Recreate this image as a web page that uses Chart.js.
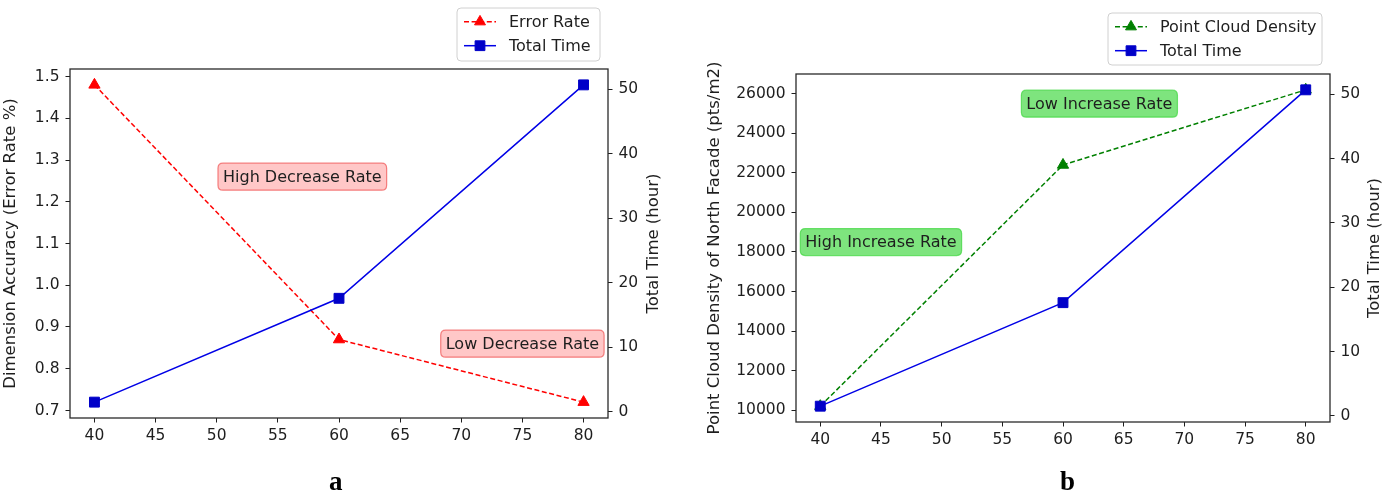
<!DOCTYPE html>
<html><head><meta charset="utf-8">
<script src="https://cdn.jsdelivr.net/npm/chart.js@4.4.1/dist/chart.umd.min.js"></script>
<style>
html,body{margin:0;padding:0;background:#fff;}
body{width:1395px;height:498px;position:relative;overflow:hidden;}
.wrap{position:absolute;top:0;height:498px;}
#wa{left:0;width:690px;}
#wb{left:695px;width:700px;}
.sub{position:absolute;top:464px;font-family:'Liberation Serif','DejaVu Serif',serif;font-weight:bold;font-size:27px;color:#000;line-height:34px;}
</style></head>
<body>
<div id="wa" class="wrap"><canvas id="ca" width="690" height="498"></canvas></div>
<div id="wb" class="wrap"><canvas id="cb" width="700" height="498"></canvas></div>
<div class="sub" style="left:329px;">a</div>
<div class="sub" style="left:1060px;">b</div>
<script>
// ---------- data ----------
const xValues = [40, 60, 80];
const errorRate = [1.48, 0.87, 0.72];
const totalTime = [1.5, 17.6, 50.7];
const cloudDensity = [10200, 22400, 26200];

const xTicks = [40, 45, 50, 55, 60, 65, 70, 75, 80];
const errorTicks = [0.7, 0.8, 0.9, 1.0, 1.1, 1.2, 1.3, 1.4, 1.5];
const timeTicks = [0, 10, 20, 30, 40, 50];
const densityTicks = [10000, 12000, 14000, 16000, 18000, 20000, 22000, 24000, 26000];

const notesTextA = ['High Decrease Rate', 'Low Decrease Rate'];
const notesXA = [57, 75];
const notesYA = [1.26, 0.86];
const notesTextB = ['Low Increase Rate', 'High Increase Rate'];
const notesXB = [63, 45];
const notesYB = [25500, 18500];

const seriesNamesA = ['Error Rate', 'Total Time'];
const seriesNamesB = ['Point Cloud Density', 'Total Time'];
const axisTitlesA = ['Dimension Accuracy (Error Rate %)', 'Total Time (hour)'];
const axisTitlesB = ['Point Cloud Density of North Facade (pts/m2)', 'Total Time (hour)'];

// ---------- style ----------
const FONT = "'DejaVu Sans', 'Noto Sans', sans-serif";
const INK = '#1e1e1e';
const RED = '#ff0000';
const BLUE_LINE = '#0000e6';
const BLUE_MARK = '#0000c8';
const GREEN = '#008000';
const DASH = [5, 2.6];

function padRange(arr) {
  const mn = Math.min(...arr), mx = Math.max(...arr), r = mx - mn;
  return [mn - 0.05 * r, mx + 0.05 * r];
}
function pts(ys) { return xValues.map((x, i) => ({x: x, y: ys[i]})); }

function rrect(ctx, x, y, w, h, r) {
  ctx.beginPath();
  ctx.moveTo(x + r, y);
  ctx.lineTo(x + w - r, y);
  ctx.quadraticCurveTo(x + w, y, x + w, y + r);
  ctx.lineTo(x + w, y + h - r);
  ctx.quadraticCurveTo(x + w, y + h, x + w - r, y + h);
  ctx.lineTo(x + r, y + h);
  ctx.quadraticCurveTo(x, y + h, x, y + h - r);
  ctx.lineTo(x, y + r);
  ctx.quadraticCurveTo(x, y, x + r, y);
  ctx.closePath();
}
function marker(ctx, style, x, y, color) {
  ctx.save();
  ctx.fillStyle = color; ctx.strokeStyle = color; ctx.lineWidth = 1; ctx.setLineDash([]);
  ctx.beginPath();
  if (style === 'triangle') {
    const r = 6.3;
    ctx.moveTo(x, y - r);
    ctx.lineTo(x + r * 0.866, y + r * 0.5);
    ctx.lineTo(x - r * 0.866, y + r * 0.5);
    ctx.closePath();
  } else {
    const s = 4.9;
    ctx.rect(x - s, y - s, 2 * s, 2 * s);
  }
  ctx.fill(); ctx.stroke();
  ctx.restore();
}
function vtext(ctx, text, x, y) {
  ctx.save();
  ctx.translate(x, y);
  ctx.rotate(-Math.PI / 2);
  ctx.font = '16.5px ' + FONT;
  ctx.fillStyle = INK;
  ctx.textAlign = 'center';
  ctx.textBaseline = 'middle';
  ctx.fillText(text, 0, 0);
  ctx.restore();
}

function decor(cfg) {
  return {
    id: 'decor',
    afterDatasetsDraw(chart) {
      const ctx = chart.ctx, a = chart.chartArea;
      // spines
      ctx.save();
      ctx.strokeStyle = '#2a2a2a'; ctx.lineWidth = 1.3;
      ctx.strokeRect(a.left, a.top, a.right - a.left, a.bottom - a.top);
      ctx.restore();
      // text boxes
      const xs = chart.scales.x, ys = chart.scales.y;
      cfg.notes.text.forEach((t, i) => {
        const px = xs.getPixelForValue(cfg.notes.x[i]);
        const py = ys.getPixelForValue(cfg.notes.y[i]);
        ctx.save();
        ctx.font = '16px ' + FONT;
        const w = ctx.measureText(t).width;
        const pad = 5, h = 27;
        rrect(ctx, px - w / 2 - pad, py - h / 2, w + 2 * pad, h, 5);
        ctx.fillStyle = cfg.notes.fill; ctx.fill();
        ctx.strokeStyle = cfg.notes.edge; ctx.lineWidth = 1.2; ctx.stroke();
        ctx.fillStyle = INK; ctx.textAlign = 'center'; ctx.textBaseline = 'middle';
        ctx.fillText(t, px, py + 1);
        ctx.restore();
      });
      // legend
      const L = cfg.legend;
      ctx.save();
      rrect(ctx, L.x, L.y, L.w, L.h, 4);
      ctx.fillStyle = 'rgba(255,255,255,0.9)'; ctx.fill();
      ctx.strokeStyle = '#d0d0d0'; ctx.lineWidth = 1; ctx.stroke();
      L.items.forEach((it, i) => {
        const yy = L.y + 13.7 + i * 24;
        ctx.save();
        ctx.strokeStyle = it.color; ctx.lineWidth = 1.5;
        ctx.setLineDash(it.dash ? DASH : []);
        ctx.beginPath(); ctx.moveTo(L.x + 7, yy); ctx.lineTo(L.x + 39, yy); ctx.stroke();
        ctx.restore();
        marker(ctx, it.style, L.x + 23, yy, it.mark);
        ctx.font = '16px ' + FONT; ctx.fillStyle = INK;
        ctx.textAlign = 'left'; ctx.textBaseline = 'middle';
        ctx.fillText(it.label, L.x + 52, yy + 1);
      });
      ctx.restore();
      // axis titles
      const cy = (a.top + a.bottom) / 2;
      vtext(ctx, cfg.titles[0], cfg.titleX[0], cy);
      vtext(ctx, cfg.titles[1], cfg.titleX[1], cy);
    }
  };
}

function xScale(h) {
  const r = padRange(xValues);
  return {
    type: 'linear', position: 'bottom', min: r[0], max: r[1],
    afterBuildTicks: s => { s.ticks = xTicks.map(v => ({value: v})); },
    afterFit: s => { s.height = h; },
    grid: {drawOnChartArea: false, drawTicks: true, tickLength: 4.5, color: INK, lineWidth: 1},
    border: {display: false},
    ticks: {font: {family: FONT, size: 15.5}, color: INK, padding: 4, maxRotation: 0, autoSkip: false}
  };
}
function yScale(pos, w, data, tickVals, fmt) {
  const r = padRange(data);
  return {
    type: 'linear', position: pos, min: r[0], max: r[1],
    afterBuildTicks: s => { s.ticks = tickVals.map(v => ({value: v})); },
    afterFit: s => { s.width = w; },
    grid: {drawOnChartArea: false, drawTicks: true, tickLength: 4.5, color: INK, lineWidth: 1},
    border: {display: false},
    ticks: {font: {family: FONT, size: 15.5}, color: INK, padding: 6, autoSkip: false, callback: fmt}
  };
}

Chart.defaults.animation = false;

new Chart(document.getElementById('ca'), {
  type: 'line',
  data: {
    datasets: [
      {label: seriesNamesA[0], data: pts(errorRate), yAxisID: 'y', borderColor: RED, backgroundColor: RED,
       borderWidth: 1.5, borderDash: DASH, pointStyle: 'triangle', pointRadius: 6.5, pointBorderWidth: 1,
       pointBackgroundColor: RED, pointBorderColor: RED, tension: 0, order: 2},
      {label: seriesNamesA[1], data: pts(totalTime), yAxisID: 'y1', borderColor: BLUE_LINE, backgroundColor: BLUE_MARK,
       borderWidth: 1.5, pointStyle: 'rect', pointRadius: 7, pointBorderWidth: 1,
       pointBackgroundColor: BLUE_MARK, pointBorderColor: BLUE_MARK, tension: 0, order: 1}
    ]
  },
  options: {
    responsive: false, animation: false,
    layout: {padding: {top: 69, left: 0, right: 0, bottom: 0}},
    plugins: {legend: {display: false}, tooltip: {enabled: false}},
    scales: {
      x: xScale(80),
      y: yScale('left', 70, errorRate, errorTicks, v => Number(v).toFixed(1)),
      y1: yScale('right', 82, totalTime, timeTicks, v => String(v))
    }
  },
  plugins: [decor({
    notes: {text: notesTextA, x: notesXA, y: notesYA, fill: 'rgba(255,0,0,0.22)', edge: 'rgba(240,80,80,0.7)'},
    legend: {x: 457, y: 8, w: 143, h: 53, items: [
      {label: seriesNamesA[0], color: RED, mark: RED, dash: true, style: 'triangle'},
      {label: seriesNamesA[1], color: BLUE_LINE, mark: BLUE_MARK, dash: false, style: 'rect'}]},
    titles: axisTitlesA, titleX: [11, 654]
  })]
});

new Chart(document.getElementById('cb'), {
  type: 'line',
  data: {
    datasets: [
      {label: seriesNamesB[0], data: pts(cloudDensity), yAxisID: 'y', borderColor: GREEN, backgroundColor: GREEN,
       borderWidth: 1.5, borderDash: DASH, pointStyle: 'triangle', pointRadius: 6.5, pointBorderWidth: 1,
       pointBackgroundColor: GREEN, pointBorderColor: GREEN, tension: 0, order: 2},
      {label: seriesNamesB[1], data: pts(totalTime), yAxisID: 'y1', borderColor: BLUE_LINE, backgroundColor: BLUE_MARK,
       borderWidth: 1.5, pointStyle: 'rect', pointRadius: 7, pointBorderWidth: 1,
       pointBackgroundColor: BLUE_MARK, pointBorderColor: BLUE_MARK, tension: 0, order: 1}
    ]
  },
  options: {
    responsive: false, animation: false,
    layout: {padding: {top: 74, left: 0, right: 0, bottom: 0}},
    plugins: {legend: {display: false}, tooltip: {enabled: false}},
    scales: {
      x: xScale(76),
      y: yScale('left', 101, cloudDensity, densityTicks, v => String(v)),
      y1: yScale('right', 65, totalTime, timeTicks, v => String(v))
    }
  },
  plugins: [decor({
    notes: {text: notesTextB, x: notesXB, y: notesYB, fill: 'rgba(40,210,40,0.6)', edge: 'rgba(40,210,40,0.6)'},
    legend: {x: 413, y: 13, w: 214, h: 52, items: [
      {label: seriesNamesB[0], color: GREEN, mark: GREEN, dash: true, style: 'triangle'},
      {label: seriesNamesB[1], color: BLUE_LINE, mark: BLUE_MARK, dash: false, style: 'rect'}]},
    titles: axisTitlesB, titleX: [20, 680]
  })]
});
</script>
</body></html>
